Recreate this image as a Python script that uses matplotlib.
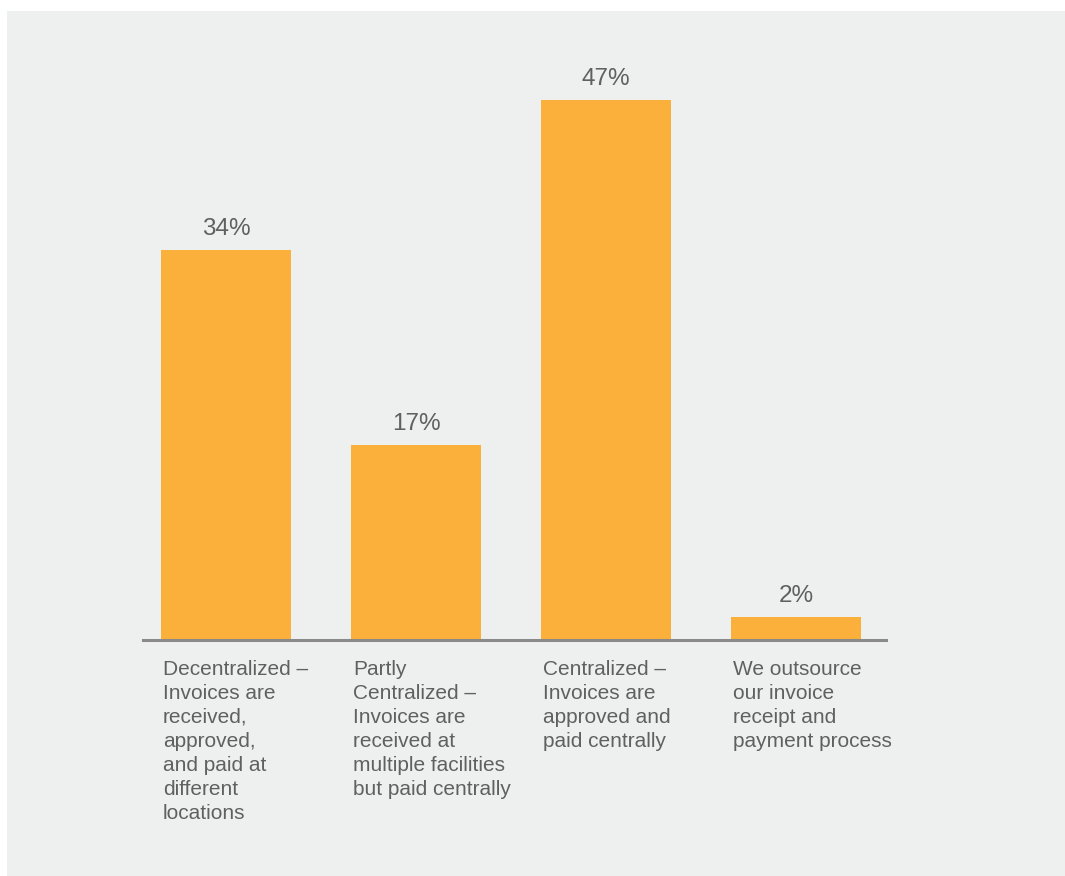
import numpy as np
import matplotlib
matplotlib.use("Agg")
import matplotlib.pyplot as plt
from matplotlib.patches import Rectangle

categories = [
    "Decentralized \u2013\nInvoices are\nreceived,\napproved,\nand paid at\ndifferent\nlocations",
    "Partly\nCentralized \u2013\nInvoices are\nreceived at\nmultiple facilities\nbut paid centrally",
    "Centralized \u2013\nInvoices are\napproved and\npaid centrally",
    "We outsource\nour invoice\nreceipt and\npayment process",
]
shares = [34, 17, 47, 2]

BAR = "#FBB03B"
PANEL = "#EEF0EF"
TEXT = "#606060"

plt.rcParams["font.family"] = ["Liberation Sans", "DejaVu Sans"]

W, H = 1065, 876
fig = plt.figure(figsize=(W / 100, H / 100), dpi=100)
fig.patch.set_facecolor("white")
# grey panel behind the chart
fig.patches.append(Rectangle((7 / W, 0), 1058 / W, (H - 11) / H,
                             transform=fig.transFigure, facecolor=PANEL,
                             edgecolor="none", zorder=-10))

ax = fig.add_axes([143 / W, (H - 640) / H, 743 / W, 574 / H])
ax.set_facecolor("none")
ax.set_zorder(5)

x = np.arange(len(shares))
width = 0.684
ax.bar(x, shares, width=width, color=BAR, zorder=2)
ax.set_xlim(-0.437, 3.474)
ax.set_ylim(0, 50)

for s in ["top", "right", "left"]:
    ax.spines[s].set_visible(False)
ax.spines["bottom"].set_color("#8A8A8A")
ax.spines["bottom"].set_linewidth(2.2)
ax.set_xticks([])
ax.set_yticks([])

for xi, v in zip(x, shares):
    ax.annotate(f"{v}%", (xi, v), xytext=(0, 15), textcoords="offset pixels",
                ha="center", va="baseline", fontsize=17.5, color=TEXT)

for xi, label in zip(x, categories):
    ax.annotate(label, (xi - width / 2, 0), xytext=(2, -20),
                textcoords="offset pixels", ha="left", va="top",
                fontsize=15, color=TEXT, linespacing=1.33,
                annotation_clip=False)

fig.savefig("out.png", dpi=100, facecolor="white")
